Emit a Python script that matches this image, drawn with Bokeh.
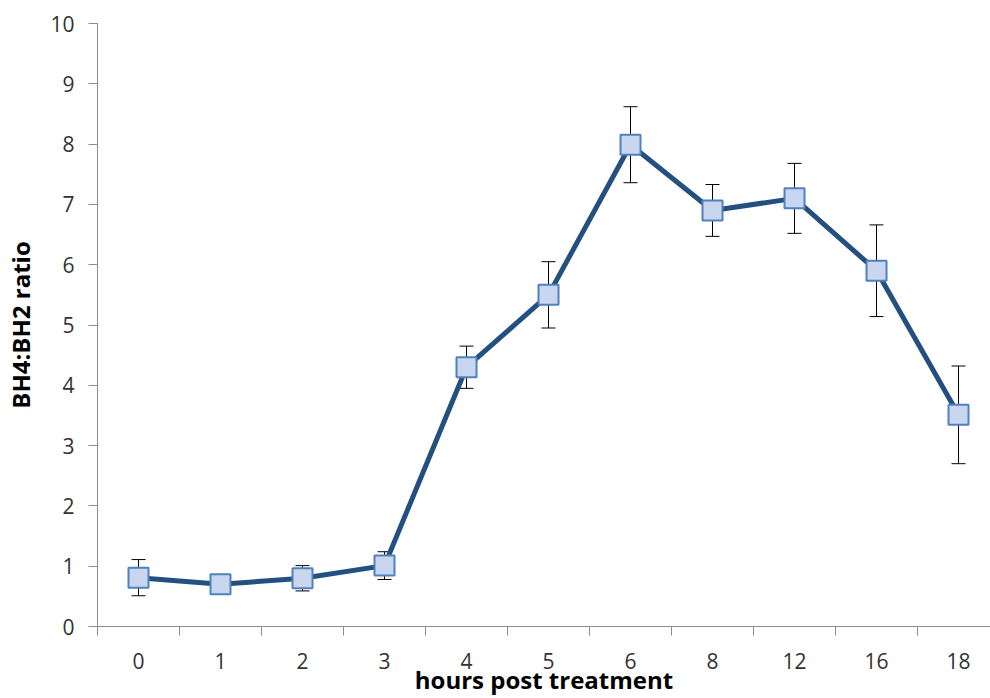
from bokeh.plotting import figure
from bokeh.models import (ColumnDataSource, Range1d, FixedTicker, Whisker, TeeHead)
from bokeh.embed import file_html
from bokeh.resources import INLINE

# ---- data ----
hours = ["0", "1", "2", "3", "4", "5", "6", "8", "12", "16", "18"]
ratio = [0.81, 0.70, 0.80, 1.01, 4.30, 5.50, 7.99, 6.90, 7.10, 5.90, 3.51]
err = [0.30, 0.10, 0.21, 0.23, 0.35, 0.55, 0.63, 0.43, 0.58, 0.76, 0.81]
y_ticks = [0, 1, 2, 3, 4, 5, 6, 7, 8, 9, 10]

xpos = [i + 0.5 for i in range(len(hours))]
upper = [r + e for r, e in zip(ratio, err)]
lower = [r - e for r, e in zip(ratio, err)]
src = ColumnDataSource(dict(x=xpos, y=ratio, upper=upper, lower=lower))

FONT = "Open Sans"

p = figure(width=990, height=698, output_backend="svg", toolbar_location=None,
           x_range=Range1d(0, 10.89), y_range=Range1d(0, 10),
           min_border_left=97, min_border_right=0, min_border_top=23,
           min_border_bottom=71)
p.outline_line_color = None
p.xgrid.visible = False
p.ygrid.visible = False
p.background_fill_color = "white"
p.border_fill_color = "white"

# x axis: labels at category centers, tick marks at category boundaries
p.xaxis.ticker = FixedTicker(ticks=xpos, minor_ticks=list(range(len(hours) + 1)))
p.xaxis.major_label_overrides = {x: h for x, h in zip(xpos, hours)}
p.xaxis.major_tick_out = 0
p.xaxis.major_tick_in = 0
p.xaxis.minor_tick_out = 9
p.xaxis.minor_tick_in = 0
p.xaxis.minor_tick_line_color = "#8c8c8c"
p.xaxis.axis_line_color = "#8c8c8c"
p.xaxis.major_label_standoff = 17
p.xaxis.major_label_text_font = FONT
p.xaxis.major_label_text_font_size = "21px"
p.xaxis.major_label_text_color = "#333333"
p.xaxis.axis_label = "hours post treatment"
p.xaxis.axis_label_text_font = FONT
p.xaxis.axis_label_text_font_style = "bold"
p.xaxis.axis_label_text_font_size = "24px"
p.xaxis.axis_label_text_color = "black"
p.xaxis.axis_label_standoff = -9

# y axis
p.yaxis.ticker = FixedTicker(ticks=y_ticks)
p.yaxis.major_tick_out = 9
p.yaxis.major_tick_in = 0
p.yaxis.minor_tick_line_color = None
p.yaxis.major_tick_line_color = "#8c8c8c"
p.yaxis.axis_line_color = "#8c8c8c"
p.yaxis.major_label_standoff = 14
p.yaxis.major_label_text_font = FONT
p.yaxis.major_label_text_font_size = "21px"
p.yaxis.major_label_text_color = "#333333"
p.yaxis.axis_label = "BH4:BH2 ratio"
p.yaxis.axis_label_text_font = FONT
p.yaxis.axis_label_text_font_style = "bold"
p.yaxis.axis_label_text_font_size = "24px"
p.yaxis.axis_label_text_color = "black"
p.yaxis.axis_label_standoff = 10

# error bars
wh = Whisker(source=src, base="x", upper="upper", lower="lower", dimension="height",
             line_color="black", line_width=1,
             upper_head=TeeHead(size=14, line_color="black", line_width=1),
             lower_head=TeeHead(size=14, line_color="black", line_width=1))
p.add_layout(wh)

p.line("x", "y", source=src, line_color="#23507f", line_width=5)
p.scatter("x", "y", source=src, marker="square", size=20,
          fill_color="#c8d7ef", line_color="#4f81bd", line_width=2)

open("out.html", "w").write(file_html(p, INLINE))
